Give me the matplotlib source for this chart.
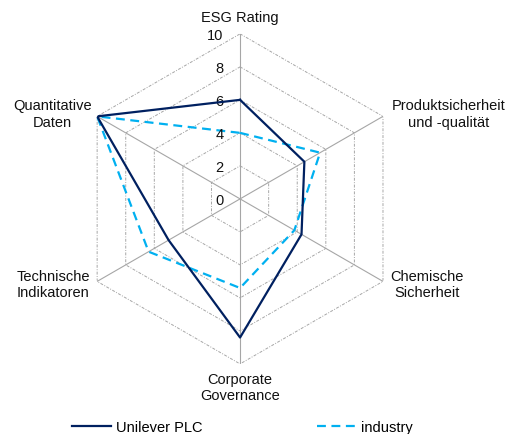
import numpy as np
from matplotlib import pyplot as plt

plt.rcParams['font.family'] = ['Liberation Sans', 'DejaVu Sans']

# data
categories = ["ESG Rating", "Produktsicherheit\nund -qualität", "Chemische\nSicherheit",
              "Corporate\nGovernance", "Technische\nIndikatoren", "Quantitative\nDaten"]
unilever = [6, 4.5, 4.3, 8.4, 5.0, 10]
industry = [4, 5.6, 3.8, 5.4, 6.4, 10]
levels = [0, 2, 4, 6, 8, 10]

n = len(categories)
theta = np.arange(n) * 2 * np.pi / n
theta_c = np.append(theta, theta[0])

fig = plt.figure(figsize=(5.07, 4.35), dpi=100)
ax = fig.add_axes([0.148, 0.161, 0.651, 0.759], projection="polar")
ax.set_theta_offset(np.pi / 2)
ax.set_theta_direction(-1)
ax.set_ylim(0, 10)
ax.grid(False)
ax.set_xticks([])
ax.set_yticks([])
ax.spines["polar"].set_visible(False)
ax.patch.set_alpha(0)

grid_col = "#a6a6a6"
# hexagon grid
for lv in levels[1:]:
    ax.plot(theta_c, [lv] * (n + 1), color=grid_col, lw=0.7, dashes=(3, 1.5, 1, 1.5), zorder=1)
# spokes
for t in theta:
    ax.plot([t, t], [0, 10], color=grid_col, lw=0.8, zorder=1)

# level labels
for lv in levels:
    ax.annotate(str(lv), xy=(0, lv), xytext=(-12, -1), textcoords="offset points",
                ha="right", va="center", fontsize=10.5, color="#111111")

# category labels
offsets = [((0, 7), "center", "bottom"), ((6, 2), "left", "center"),
           ((5, -2), "left", "center"), ((0, -6), "center", "top"),
           ((-5, -2), "right", "center"), ((-4, 2), "right", "center")]
for t, lab, (off, ha, va) in zip(theta, categories, offsets):
    ax.annotate(lab, xy=(t, 10), xytext=off, textcoords="offset points",
                ha=ha, va=va, multialignment="center", fontsize=10.5, color="#111111",
                annotation_clip=False)

ax.plot(theta_c, unilever + unilever[:1], color="#002060", lw=1.6, label="Unilever PLC", zorder=3)
ax.plot(theta_c, industry + industry[:1], color="#00b0f0", lw=1.6, dashes=(4, 2.5),
        label="industry", zorder=2)

fig.legend(loc="center", bbox_to_anchor=(0.478, 0.016), ncol=2, frameon=False,
           handlelength=2.7, handletextpad=0.35, columnspacing=7.8, fontsize=10.5)

plt.savefig("out.png", dpi=100)
